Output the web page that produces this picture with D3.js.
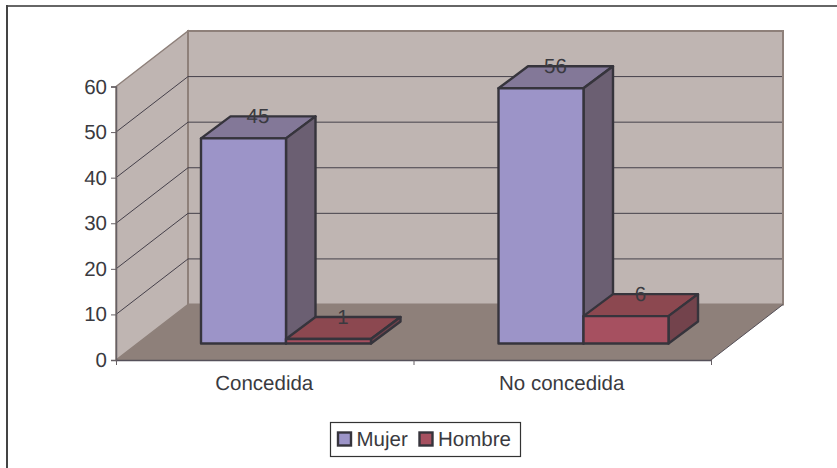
<!DOCTYPE html>
<html><head><meta charset="utf-8">
<style>html,body{margin:0;padding:0;background:#fff}svg{display:block}text{font-family:"Liberation Sans",Arial,sans-serif;fill:#3a3a40;text-rendering:geometricPrecision}</style>
<script src="https://cdn.jsdelivr.net/npm/d3@7"></script></head><body>
<svg id="c" width="837" height="468"></svg>
<script>
const categories = ["Concedida", "No concedida"];
const seriesNames = ["Mujer", "Hombre"];
const mujer = [45, 56];
const hombre = [1, 6];
const yTicks = [0, 10, 20, 30, 40, 50, 60];
const seriesValues = [mujer, hombre];
const faceColors = [
  {front:"#9c94c8", top:"#837898", side:"#6b5f72"},
  {front:"#a65060", top:"#8c4850", side:"#73434c"}
];

const svg = d3.select("#c");
const x0 = d3.scaleBand().domain(categories).range([116, 711]);
const x1 = d3.scaleBand().domain(seriesNames).range([85, 255]);
const y = d3.scaleLinear().domain([0, 60]).range([360, 86.5]);
const wallDx = 72, wallDy = -55.5;
const barDx = 29.5, barDy = -22, barLift = 16.5;
const poly = pts => pts.map(p => p.join(",")).join(" ");
const fs = "20.5px";

// frame: only top and left edges are visible
svg.append("line").attr("x1",6).attr("y1",6).attr("x2",837).attr("y2",6).attr("stroke","#666").attr("stroke-width",2);
svg.append("line").attr("x1",7).attr("y1",5).attr("x2",7).attr("y2",468).attr("stroke","#444").attr("stroke-width",2);

const xL = x0.range()[0], xR = x0.range()[1], yB = y(0), yT = y(60);
const wallStroke = "#8e807a";
// walls
svg.append("polygon").attr("points",poly([[xL,yB],[xL,yT],[xL+wallDx,yT+wallDy],[xL+wallDx,yB+wallDy]]))
  .attr("fill","#bfb5b2").attr("stroke",wallStroke).attr("stroke-width",1.5);
svg.append("polygon").attr("points",poly([[xL+wallDx,yT+wallDy],[xR+wallDx,yT+wallDy],[xR+wallDx,yB+wallDy],[xL+wallDx,yB+wallDy]]))
  .attr("fill","#bfb5b2").attr("stroke",wallStroke).attr("stroke-width",2);
svg.append("polygon").attr("points",poly([[xL,yB],[xL+wallDx,yB+wallDy],[xR+wallDx,yB+wallDy],[xR,yB]]))
  .attr("fill","#8e807a");
svg.append("line").attr("x1",xR).attr("y1",yB).attr("x2",xR+wallDx).attr("y2",yB+wallDy).attr("stroke","#555058").attr("stroke-width",1);

// gridlines
yTicks.filter(t => t > 0 && t < 60).forEach(t => {
  svg.append("path").attr("fill","none").attr("stroke","#45404a").attr("stroke-width",1)
    .attr("d",`M${xL},${y(t)}L${xL+wallDx},${y(t)+wallDy}H${xR+wallDx-1}`);
});

// axes
const yAxis = d3.axisLeft(y).tickValues(yTicks).tickSize(5).tickPadding(4);
const yG = svg.append("g").attr("transform",`translate(${xL},0)`).call(yAxis);
yG.selectAll("text").style("font-size",fs);
yG.selectAll("line").attr("stroke","#666064");
yG.select("path").attr("stroke","#666064").attr("stroke-width",1.5);
const xAxis = d3.axisBottom(d3.scaleLinear().domain([0,2]).range([xL,xR])).tickValues([0,1,2]).tickFormat("").tickSize(5).tickSizeOuter(0);
const xG = svg.append("g").attr("transform",`translate(0,${yB})`).call(xAxis);
xG.selectAll("line").attr("stroke","#666064");
xG.select("path").attr("stroke","#55505a").attr("stroke-width",1.5);
svg.selectAll(".cat").data(categories).join("text").attr("class","cat")
  .attr("x",d => x0(d)+x0.bandwidth()/2-0.5).attr("y",390).attr("text-anchor","middle")
  .style("font-size",fs).text(d => d);

// bars
const stroke = "#36343c";
const baseY = yB - barLift;
const bars = [];
categories.forEach((c,ci) => seriesNames.forEach((s,si) => bars.push({c, s, si, v: seriesValues[si][ci]})));
const barH = v => yB - y(v);
const g = svg.selectAll(".bar").data(bars).join("g").attr("class","bar");
g.each(function(d){
  const sel = d3.select(this);
  const xa = x0(d.c) + x1(d.s), xb = xa + x1.bandwidth(), top = baseY - barH(d.v);
  const col = faceColors[d.si];
  const attrs = el => el.attr("stroke",stroke).attr("stroke-width",2.4).attr("stroke-linejoin","round");
  attrs(sel.append("polygon").attr("points",poly([[xa,top],[xb,top],[xb+barDx,top+barDy],[xa+barDx,top+barDy]])).attr("fill",col.top));
  attrs(sel.append("polygon").attr("points",poly([[xb,top],[xb+barDx,top+barDy],[xb+barDx,baseY+barDy],[xb,baseY]])).attr("fill",col.side));
  attrs(sel.append("polygon").attr("points",poly([[xa,top],[xb,top],[xb,baseY],[xa,baseY]])).attr("fill",col.front));
});
g.append("text").attr("text-anchor","middle").style("font-size",fs)
  .attr("x",d => x0(d.c)+x1(d.s)+x1.bandwidth()/2+14.5)
  .attr("y",d => baseY-barH(d.v)+barDy+7)
  .text(d => d.v);

// legend
svg.append("rect").attr("x",330.5).attr("y",422.5).attr("width",190).attr("height",34)
  .attr("fill","#fff").attr("stroke","#333").attr("stroke-width",1.2);
const lx = [338, 419.5];
seriesNames.forEach((s,i) => {
  svg.append("rect").attr("x",lx[i]).attr("y",432.5).attr("width",13).attr("height",13)
    .attr("fill",faceColors[i].front).attr("stroke",stroke).attr("stroke-width",2.4);
  svg.append("text").attr("x",lx[i]+18.5).attr("y",446).style("font-size",fs).text(s);
});
</script></body></html>
